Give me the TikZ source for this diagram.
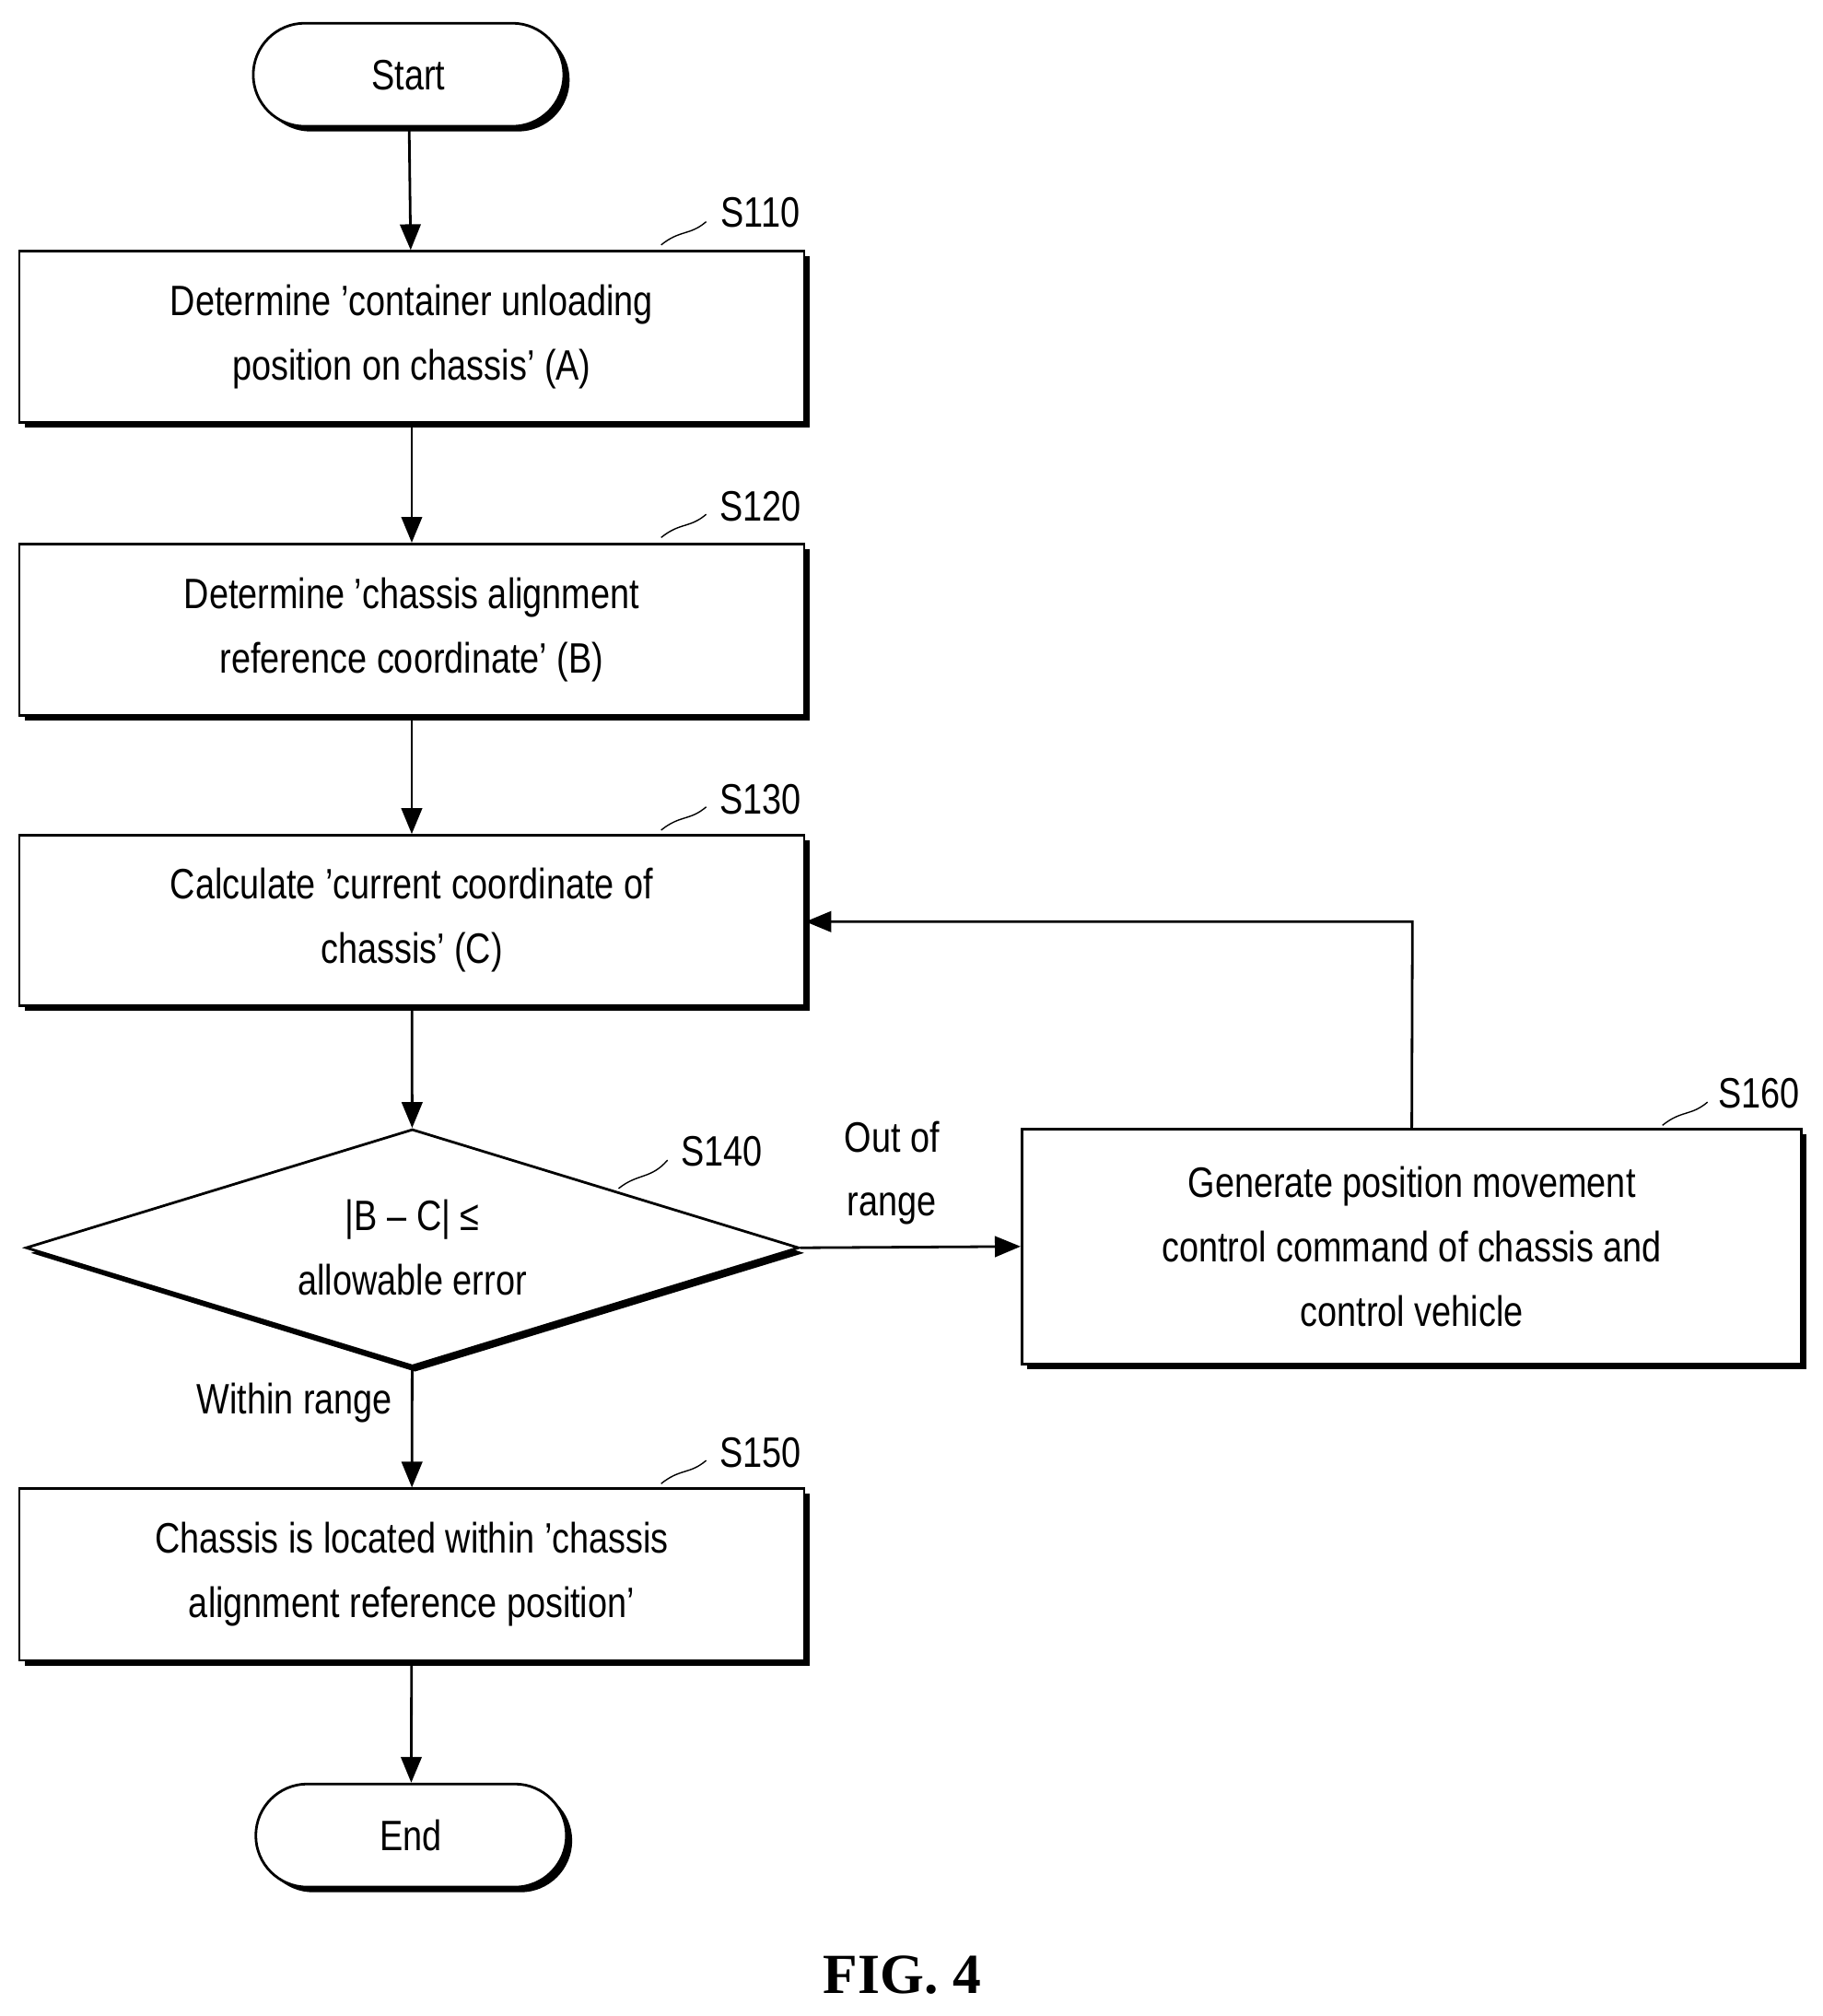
\documentclass[tikz,border=0pt]{standalone}
\usepackage{fontspec}
\setmainfont{Liberation Sans}[FakeStretch=0.82]
\newfontfamily\figfont{Liberation Serif}
\usetikzlibrary{shapes.geometric,arrows.meta}
\begin{document}
\begin{tikzpicture}[x=1pt,y=-1pt,
  txt/.style={font=\fontsize{33}{50}\selectfont,align=center},
  box/.style={draw,line width=2pt,minimum width=609pt,txt},
  term/.style={draw,line width=2pt,rounded corners=40pt,minimum width=241pt,minimum height=80pt,txt},
  arr/.style={line width=2pt,-{Triangle[length=20pt,width=16pt]}},
  lab/.style={font=\fontsize{33}{40}\selectfont},
  sq/.style={line width=1pt}]
\useasboundingbox (0,0) rectangle (1414,1564);
\newcommand\shbox[5]{% name, x1,y1,x2,y2
  \fill (#2+4,#3+4) rectangle (#4+4,#5+4);
  \node[box,fill=white,minimum width=#4-#2,minimum height=#5-#3] (#1) at ({(#2+#4)/2},{(#3+#5)/2}) {};}
\fill[rounded corners=40pt] (201,22) rectangle (442,102);
\node[term,fill=white] (start) at (317,58) {Start};
\shbox{s110}{15}{195}{624}{328}
\node[txt] at (s110) {Determine 'container unloading\\position on chassis' (A)};
\shbox{s120}{15}{422}{624}{555}
\node[txt] at (s120) {Determine 'chassis alignment\\reference coordinate' (B)};
\shbox{s130}{15}{648}{624}{780}
\node[txt] at (s130) {Calculate 'current coordinate of\\chassis' (C)};
\fill (24,972) -- (322,880) -- (624,972) -- (322,1064) -- cycle;
\node[draw,fill=white,line width=2pt,diamond,aspect=3.26,inner sep=0pt,minimum width=600pt,minimum height=184pt] (d) at (320,968) {};
\node[txt] at (320,968) {|B -- C| ≤\\allowable error};
\shbox{s160}{793}{876}{1398}{1058}
\node[txt] at (s160) {Generate position movement\\control command of chassis and\\control vehicle};
\shbox{s150}{15}{1155}{624}{1288}
\node[txt] at (s150) {Chassis is located within 'chassis\\alignment reference position'};
\fill[rounded corners=40pt] (203,1388) rectangle (444,1468);
\node[term,fill=white] (end) at (319,1424) {End};
\draw[arr] (start) -- (s110);
\draw[arr] (s110) -- (s120);
\draw[arr] (s120) -- (s130);
\draw[arr] (s130) -- (d);
\draw[arr] (d) -- (s150);
\draw[arr] (s150) -- (end);
\draw[arr] (d.east) -- (s160.west);
\draw[arr] (s160.north) -- (1096,715) -- (s130.east|-0,715);
\node[txt] at (692,910) {Out of\\range};
\node[txt,anchor=east] at (308,1088) {Within range};
\node[lab] at (590,165) {S110}; \draw[sq] (513,190) .. controls (528,178) and (535,183) .. (548,172);
\node[lab] at (590,393) {S120}; \draw[sq] (513,417) .. controls (528,405) and (535,410) .. (548,399);
\node[lab] at (590,620) {S130}; \draw[sq] (513,644) .. controls (528,632) and (535,637) .. (548,626);
\node[lab] at (560,893) {S140}; \draw[sq] (480,922) .. controls (495,910) and (505,915) .. (518,900);
\node[lab] at (1365,848) {S160}; \draw[sq] (1290,873) .. controls (1305,861) and (1312,866) .. (1325,855);
\node[lab] at (590,1127) {S150}; \draw[sq] (513,1151) .. controls (528,1139) and (535,1144) .. (548,1133);
\node[font=\figfont\bfseries\fontsize{44}{50}\selectfont] at (700,1532) {FIG. 4};
\end{tikzpicture}
\end{document}
